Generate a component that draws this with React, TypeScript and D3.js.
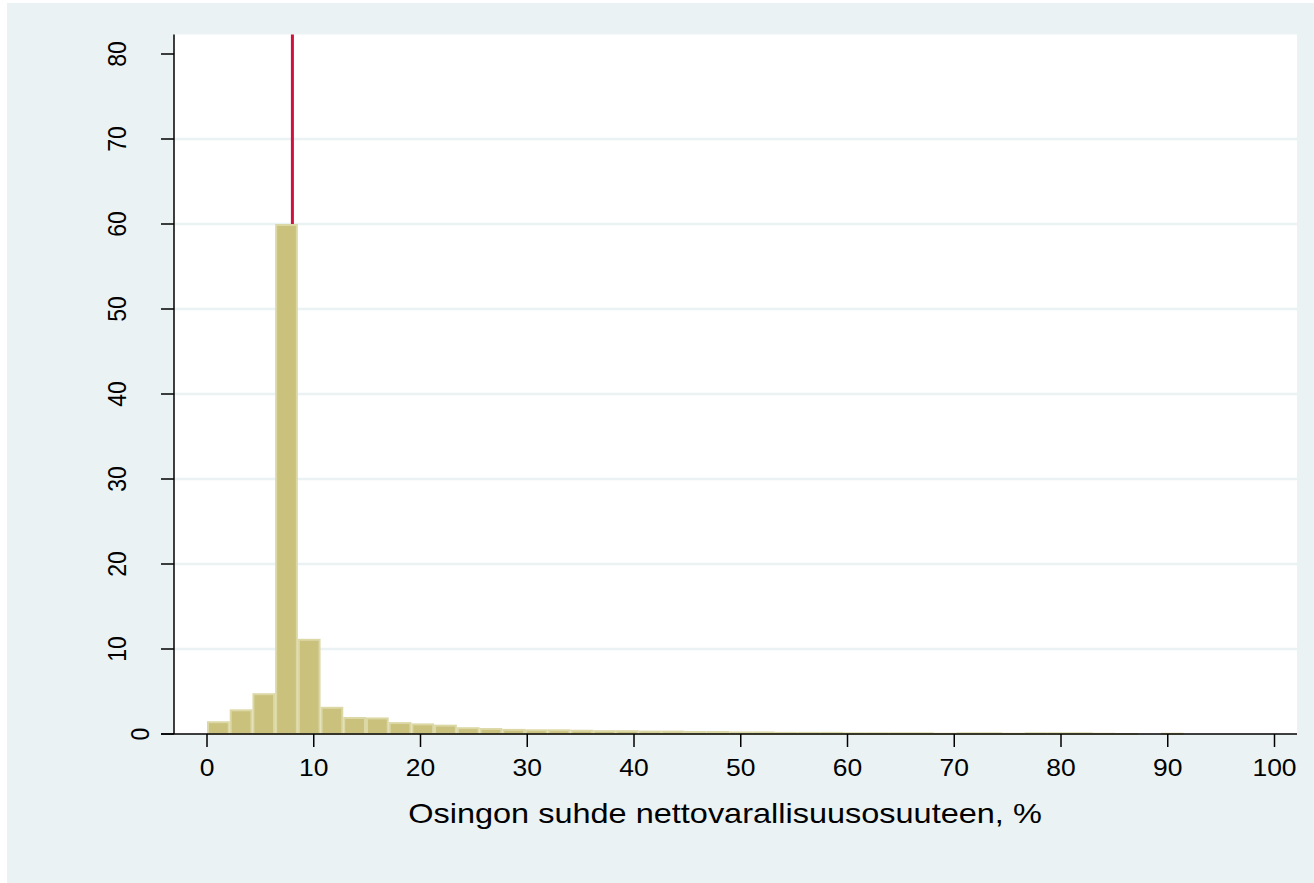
import React from "react";
import * as d3 from "d3";

// Histogram of dividend-to-net-wealth-share ratio (percent of observations per bin)
const binCount = 47;
const binMin = 0;
const binMax = 100;
const percents: number[] = [
  1.5, 2.9, 4.8, 60.0, 11.2, 3.2, 2.0, 1.95, 1.4, 1.25,
  1.1, 0.8, 0.7, 0.6, 0.55, 0.55, 0.5, 0.45, 0.45, 0.4,
  0.4, 0.35, 0.35, 0.3, 0.3, 0.25, 0.25, 0.25, 0.2, 0.2,
  0.2, 0.2, 0.15, 0.2, 0.2, 0.15, 0.2, 0.2, 0.2, 0.15,
  0.12, 0.1, 0.15, 0.1, 0.1, 0.1, 0.1,
];
const xTicks = [0, 10, 20, 30, 40, 50, 60, 70, 80, 90, 100];
const yTicks = [0, 10, 20, 30, 40, 50, 60, 70, 80];
const gridValues = [10, 20, 30, 40, 50, 60, 70];
const referenceValue = 8;
const xTitle = "Osingon suhde nettovarallisuusosuuteen, %";

const W = 1314;
const H = 883;
const plot = { left: 174, right: 1297, top: 34.5, bottom: 734 };
// glyphs are drawn slightly wide
const SX = 1.15;

export default function App() {
  const x = d3.scaleLinear().domain([0, 100]).range([207, 1274.5]);
  const y = d3.scaleLinear().domain([0, 80]).range([734, 54]);
  const bw = (binMax - binMin) / binCount;
  const bins = percents.map((v, i) => ({
    x0: binMin + i * bw,
    x1: binMin + (i + 1) * bw,
    v,
  }));
  const font = "'Liberation Sans', Arial, Helvetica, sans-serif";

  return (
    <svg
      width={W}
      height={H}
      style={{ position: "absolute", left: 0, top: 0, background: "#fff" }}
    >
      <rect x={7} y={3} width={W - 7} height={H - 3} fill="#eaf2f3" />
      <rect
        x={plot.left}
        y={plot.top}
        width={plot.right - plot.left}
        height={plot.bottom - plot.top}
        fill="#ffffff"
      />
      {gridValues.map((g) => (
        <line
          key={g}
          x1={plot.left}
          x2={plot.right}
          y1={y(g)}
          y2={y(g)}
          stroke="#eaf2f3"
          strokeWidth={2.5}
        />
      ))}
      <line
        x1={x(referenceValue)}
        x2={x(referenceValue)}
        y1={plot.top}
        y2={y(0)}
        stroke="#d1103c"
        strokeWidth={3}
      />
      {bins.map((b, i) => (
        <rect
          key={i}
          x={x(b.x0) + 1}
          y={y(b.v) + 1}
          width={x(b.x1) - x(b.x0) - 2}
          height={Math.max(0, y(0) - y(b.v) - 1)}
          fill="#c9c17c"
          stroke="#dcd8a6"
          strokeWidth={2}
        />
      ))}
      {/* axes */}
      <line x1={plot.left} x2={plot.left} y1={plot.top} y2={plot.bottom} stroke="#000" strokeWidth={1.5} />
      <line x1={161} x2={plot.right} y1={plot.bottom} y2={plot.bottom} stroke="#000" strokeWidth={1.5} />
      {yTicks.map((t) => (
        <g key={t}>
          <line x1={161} x2={plot.left} y1={y(t)} y2={y(t)} stroke="#000" strokeWidth={1.5} />
          <text
            transform={`translate(${171 - 22.5 * String(t).length},${y(t)}) scale(${SX},1) rotate(-90)`}
            textAnchor="middle"
            fontFamily={font}
            fontSize={23}
            fill="#000"
          >
            {t}
          </text>
        </g>
      ))}
      {xTicks.map((t) => (
        <g key={t}>
          <line x1={x(t)} x2={x(t)} y1={plot.bottom} y2={plot.bottom + 13} stroke="#000" strokeWidth={1.5} />
          <text
            transform={`translate(${x(t)},776) scale(${SX},1)`}
            textAnchor="middle"
            fontFamily={font}
            fontSize={23}
            fill="#000"
          >
            {t}
          </text>
        </g>
      ))}
      <text
        transform={`translate(725,823) scale(1.16,1)`}
        textAnchor="middle"
        fontFamily={font}
        fontSize={28}
        fill="#000"
      >
        {xTitle}
      </text>
    </svg>
  );
}
